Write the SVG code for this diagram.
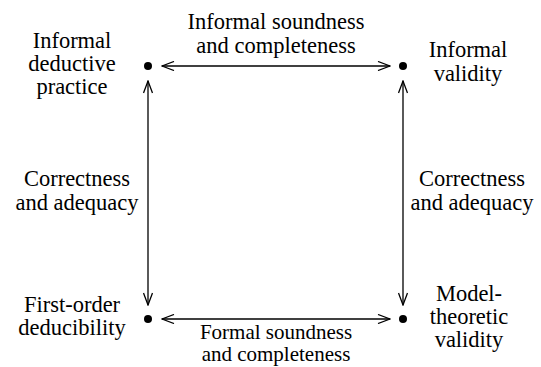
<svg xmlns="http://www.w3.org/2000/svg" width="541" height="367" viewBox="0 0 541 367" font-family="'Liberation Serif','DejaVu Serif',serif">
<defs>
<style>
text{font-family:"Liberation Serif","DejaVu Serif",serif;font-size:22.5px;fill:#000;text-anchor:middle}
.sm{font-size:21px}
.c line{stroke:#000;stroke-width:1.3;fill:none}
</style>
<marker id="a" viewBox="0 0 14 10" refX="13" refY="5" markerWidth="14" markerHeight="10" markerUnits="userSpaceOnUse" orient="auto-start-reverse">
<polyline points="1,0.5 13,5 1,9.5" fill="none" stroke="#000" stroke-width="1.3"/>
</marker>
</defs>
<rect width="541" height="367" fill="#fff"/>
<g id="n1"><circle cx="148" cy="66" r="4"/><text x="72" y="48">Informal</text><text x="72" y="71">deductive</text><text x="72" y="94">practice</text></g>
<g id="n2"><circle cx="403" cy="66" r="4"/><text x="468" y="57">Informal</text><text x="468" y="81">validity</text></g>
<g id="n3"><circle cx="148" cy="319" r="4"/><text x="72" y="312">First-order</text><text x="72" y="335">deducibility</text></g>
<g id="n4"><circle cx="403" cy="319" r="4"/><text x="469" y="301">Model-</text><text x="469" y="324">theoretic</text><text x="469" y="347">validity</text></g>
<g id="connectors" class="c">
<line x1="162" y1="66" x2="390" y2="66" marker-start="url(#a)" marker-end="url(#a)"/>
<line x1="162" y1="319" x2="390" y2="319" marker-start="url(#a)" marker-end="url(#a)"/>
<line x1="148" y1="81" x2="148" y2="305" marker-start="url(#a)" marker-end="url(#a)"/>
<line x1="403" y1="81" x2="403" y2="305" marker-start="url(#a)" marker-end="url(#a)"/>
</g>
<g id="labels">
<text x="276" y="29">Informal soundness</text><text x="276" y="53">and completeness</text>
<text class="sm" x="276" y="339">Formal soundness</text><text class="sm" x="276" y="361">and completeness</text>
<text x="77" y="186">Correctness</text><text x="77" y="210">and adequacy</text>
<text x="472" y="186">Correctness</text><text x="472" y="210">and adequacy</text>
</g>
</svg>
